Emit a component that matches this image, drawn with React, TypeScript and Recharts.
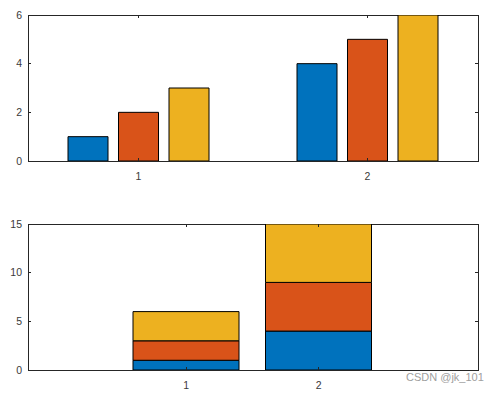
import React from 'react';
import { BarChart, Bar, XAxis, YAxis, ReferenceArea } from 'recharts';

const categories = ['1', '2'];
const seriesA = [1, 4];
const seriesB = [2, 5];
const seriesC = [3, 6];
const topTicks = [0, 2, 4, 6];
const bottomTicks = [0, 5, 10, 15];

const data = categories.map((c, i) => ({ name: c, a: seriesA[i], b: seriesB[i], c: seriesC[i] }));

const BLUE = '#0072BD';
const ORANGE = '#D95319';
const YELLOW = '#EDB120';
const AXIS = '#262626';
const TEXT = '#3a3a3a';
const FONT = '"Liberation Sans", Arial, Helvetica, sans-serif';
const W = 501;
const LEFT = 28;
const RIGHT = 478;

function makeXTick(top: number, bottom: number) {
  return (props: any) => {
    const { x, payload } = props;
    return (
      <g>
        <line x1={x} x2={x} y1={bottom} y2={bottom - 3} stroke={AXIS} shapeRendering="crispEdges" />
        <line x1={x} x2={x} y1={top} y2={top + 3} stroke={AXIS} shapeRendering="crispEdges" />
        <text x={x} y={bottom + 18.5} textAnchor="middle" fill={TEXT} fontSize={10.5} fontFamily={FONT}>
          {payload.value}
        </text>
      </g>
    );
  };
}

function makeYTick() {
  return (props: any) => {
    const { y, payload } = props;
    return (
      <g>
        <line x1={LEFT} x2={LEFT + 3} y1={y} y2={y} stroke={AXIS} shapeRendering="crispEdges" />
        <line x1={RIGHT} x2={RIGHT - 3} y1={y} y2={y} stroke={AXIS} shapeRendering="crispEdges" />
        <text x={LEFT - 6} y={y} dy="0.36em" textAnchor="end" fill={TEXT} fontSize={10.5} fontFamily={FONT}>
          {payload.value}
        </text>
      </g>
    );
  };
}

type PanelProps = {
  height: number;
  marginTop: number;
  plotH: number;
  yTicks: number[];
  stacked: boolean;
  barSize: number;
  barGap: number;
  padding: { left: number; right: number };
};

function Panel({ height, marginTop, plotH, yTicks, stacked, barSize, barGap, padding }: PanelProps) {
  const xAxisH = height - marginTop - plotH;
  const lineStyle = { stroke: AXIS, shapeRendering: 'crispEdges' as const };
  const stackId = stacked ? 's' : undefined;
  const yMin = yTicks[0];
  const yMax = yTicks[yTicks.length - 1];
  return (
    <BarChart
      width={W}
      height={height}
      data={data}
      margin={{ top: marginTop, right: W - RIGHT, bottom: 0, left: 0 }}
      barSize={barSize}
      barGap={barGap}
    >
      <XAxis
        dataKey="name"
        xAxisId="bottom"
        height={xAxisH}
        padding={padding}
        axisLine={lineStyle}
        tickLine={false}
        tickSize={0}
        tickMargin={0}
        tick={makeXTick(marginTop, marginTop + plotH)}
        interval={0}
      />
      <XAxis xAxisId="box" type="number" domain={[0, 1]} allowDataOverflow hide />
      <YAxis
        yAxisId="left"
        width={LEFT}
        domain={[yMin, yMax]}
        ticks={yTicks}
        allowDataOverflow
        axisLine={lineStyle}
        tickLine={false}
        tickSize={0}
        tickMargin={6}
        tick={makeYTick()}
        interval={0}
      />
      <Bar dataKey="a" xAxisId="bottom" yAxisId="left" stackId={stackId} fill={BLUE} stroke="#000" strokeWidth={1} isAnimationActive={false} />
      <Bar dataKey="b" xAxisId="bottom" yAxisId="left" stackId={stackId} fill={ORANGE} stroke="#000" strokeWidth={1} isAnimationActive={false} />
      <Bar dataKey="c" xAxisId="bottom" yAxisId="left" stackId={stackId} fill={YELLOW} stroke="#000" strokeWidth={1} isAnimationActive={false} />
      <ReferenceArea
        xAxisId="box"
        yAxisId="left"
        x1={0}
        x2={1}
        y1={yMin}
        y2={yMax}
        fill="none"
        fillOpacity={0}
        stroke={AXIS}
        strokeWidth={1}
        shapeRendering="crispEdges"
        ifOverflow="visible"
      />
    </BarChart>
  );
}

export default function App() {
  return (
    <div style={{ position: 'absolute', left: 0, top: 0, width: W, height: 394, background: '#fff', fontFamily: FONT }}>
      <div style={{ position: 'absolute', left: 0, top: 0 }}>
        <Panel
          height={197}
          marginTop={15}
          plotH={146}
          yTicks={topTicks}
          stacked={false}
          barSize={40}
          barGap={10.5}
          padding={{ left: -4, right: -4 }}
        />
      </div>
      <div style={{ position: 'absolute', left: 0, top: 200 }}>
        <Panel
          height={194}
          marginTop={24}
          plotH={146}
          yTicks={bottomTicks}
          stacked={true}
          barSize={106}
          barGap={0}
          padding={{ left: 92, right: 93 }}
        />
      </div>
      <div
        style={{
          position: 'absolute',
          left: 406,
          top: 372,
          fontSize: 11,
          lineHeight: '11px',
          color: '#a0a0a0',
          fontFamily: FONT,
          whiteSpace: 'nowrap',
        }}
      >
        CSDN @jk_101
      </div>
    </div>
  );
}
